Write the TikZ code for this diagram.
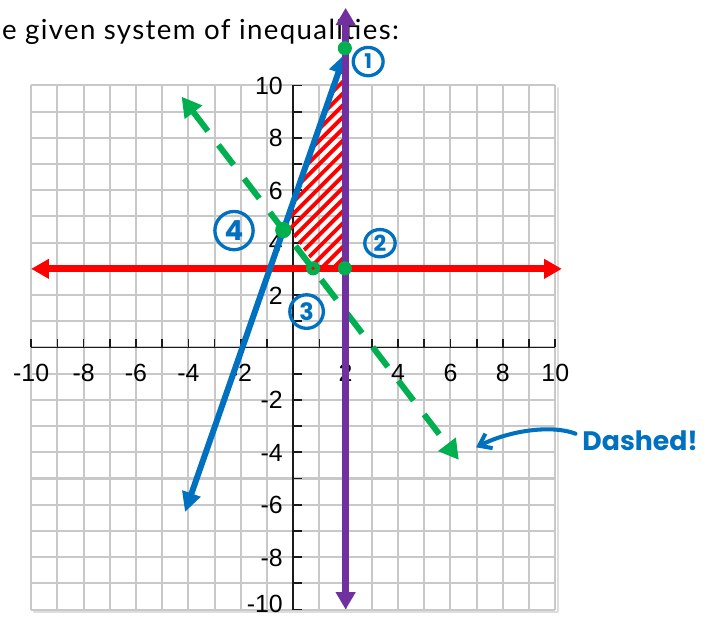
\documentclass[tikz,border=0pt]{standalone}
\usepackage{fontspec}
\setmainfont{Lato}
\newfontfamily\titlefont[LetterSpace=5]{Lato}
\newfontfamily\labelfont{Liberation Sans}
\newfontfamily\handfont{Poppins}
\usetikzlibrary{
  arrows.meta
}
\definecolor{gridC}{HTML}{C8C8C8}
\definecolor{shadeC}{HTML}{DEDEDE}
\definecolor{axisC}{HTML}{1A1A1A}
\definecolor{lineRedC}{HTML}{FF0000}
\definecolor{lineBlueC}{HTML}{0070C0}
\definecolor{lineGreenC}{HTML}{00B050}
\definecolor{linePurpleC}{HTML}{7030A0}

\begin{document}
\begin{tikzpicture}[
  x=1cm,
  y=1cm,
  line cap=round,
  line join=round,
  gridline/.style={gridC, line width=2.2pt, line cap=butt},
  tickmark/.style={axisC, line width=1.9pt, line cap=butt},
  ticklabel/.style={inner sep=0pt, font=\labelfont\fontsize{27}{30}\selectfont},
  hatchline/.style={lineRedC, line width=4.2pt},
  graphline/.style={line width=7.5pt, line cap=butt},
  cornerdot/.style={lineGreenC},
  pointtag/.style={lineBlueC, line width=3.6pt},
  pointnum/.style={lineBlueC, inner sep=0pt, font=\handfont\bfseries\fontsize{#1}{30}\selectfont}
]

\useasboundingbox (-11.19,-10.36) rectangle (15.79,13.26);

% Square grid behind the axes.
\foreach \k in {-10,...,10}{
  \draw[gridline] (\k,-10) -- (\k,10);
  \draw[gridline] (-10,\k) -- (10,\k);
}
\draw[shadeC, line width=2pt] (10.09,9.9) -- (10.09,-10.09) -- (-9.9,-10.09);

% Axes with unit ticks.
\draw[tickmark] (-10,0) -- (10,0);
\draw[tickmark] (0,-10) -- (0,10);
\foreach \k in {-10,...,10}{
  \draw[tickmark] (\k,0) -- (\k,0.34);
  \draw[tickmark] (0,\k) -- (0.32,\k);
}
\foreach \k in {-10,-8,-6,-4,-2,2,4,6,8,10}{
  \node[ticklabel, anchor=base] (xl\k) at (\k,-1.28) {\k};
}
\foreach \k in {-8,-6,-4,-2,2,4,6,8,10}{
  \node[ticklabel, anchor=base east] (yl\k) at (-0.39,{\k-0.345}) {\k};
}
\node[ticklabel, anchor=base east] (yl-10) at (-0.39,-10.1) {-10};

% Title line, cut at the left edge.
\node[anchor=base west, inner sep=0pt, font=\titlefont\fontsize{30}{34}\selectfont]
  (title) at (-11.12,11.74) {e given system of inequalities:};

% Shaded solution region.
\begin{scope}
  \clip (1.92,10.9) -- (-0.25,4.62) -- (0.84,3.14) -- (1.92,3.14) -- cycle;
  \foreach \c in {-0.4,0.05,...,9.2}{
    \draw[hatchline] (-1,\c) -- (2.5,{\c+3.5});
  }
\end{scope}

% Boundary lines.
\coordinate (redL) at (-10,3);
\coordinate (redR) at (10.25,3);
\coordinate (greenA) at (-4.26,9.57);
\coordinate (greenB) at (6.32,-4.29);
\coordinate (blueA) at (-4.13,-6.28);
\coordinate (blueB) at (1.97,11.2);
\coordinate (purpleA) at (2,12.96);
\coordinate (purpleB) at (2,-10);

\draw[graphline, lineRedC, {Triangle[length=0.68cm, width=0.72cm]}-{Triangle[length=0.68cm, width=0.72cm]}]
  (redL) -- (redR);
\draw[graphline, lineGreenC, line width=6.5pt, dash pattern=on 27pt off 19pt,
  {Triangle[length=0.75cm, width=0.8cm]}-{Triangle[length=0.75cm, width=0.8cm]}]
  (greenA) -- (greenB);
\draw[graphline, lineBlueC, line width=6.5pt,
  {Triangle[length=0.75cm, width=0.7cm]}-{Triangle[length=0.75cm, width=0.7cm]}]
  (blueA) -- (blueB);
\draw[graphline, linePurpleC, {Triangle[length=0.66cm, width=0.72cm]}-{Triangle[length=0.66cm, width=0.72cm]}]
  (purpleA) -- (purpleB);

% Corner points.
\coordinate (p1) at (1.97,11.42);
\coordinate (p2) at (1.97,3.02);
\coordinate (p3) at (0.76,3.02);
\coordinate (p4) at (-0.38,4.48);
\foreach \p/\r in {p1/0.27, p2/0.27, p3/0.27, p4/0.31}{
  \fill[cornerdot] (\p) circle (\r);
}
\fill[lineRedC] (p3) circle (0.07);

% Circled point numbers.
\foreach \n/\x/\y/\rx/\ry/\fs in {1/2.86/10.91/0.57/0.54/22, 2/3.31/3.98/0.58/0.52/24,
  3/0.51/1.37/0.64/0.64/26, 4/-2.26/4.46/0.73/0.73/30}{
  \draw[pointtag] (\x,\y) ellipse [x radius=\rx, y radius=\ry];
  \node[pointnum=\fs] (tag\n) at (\x,\y) {\n};
}

% Note on the dashed line.
\node[anchor=base west, inner sep=0pt, lineBlueC,
  font=\handfont\bfseries\fontsize{29}{34}\selectfont] (dashednote) at (11.03,-3.94) {Dashed!};
\coordinate (dashtip) at (6.98,-3.81);
\draw[lineBlueC, line width=4.4pt, -{Straight Barb[length=0.42cm, width=0.62cm]}]
  ([shift={(-0.26,0.65)}]dashednote.base west)
  .. controls (9.9,-2.95) and (8.3,-3.15) .. (dashtip);

\end{tikzpicture}
\end{document}
